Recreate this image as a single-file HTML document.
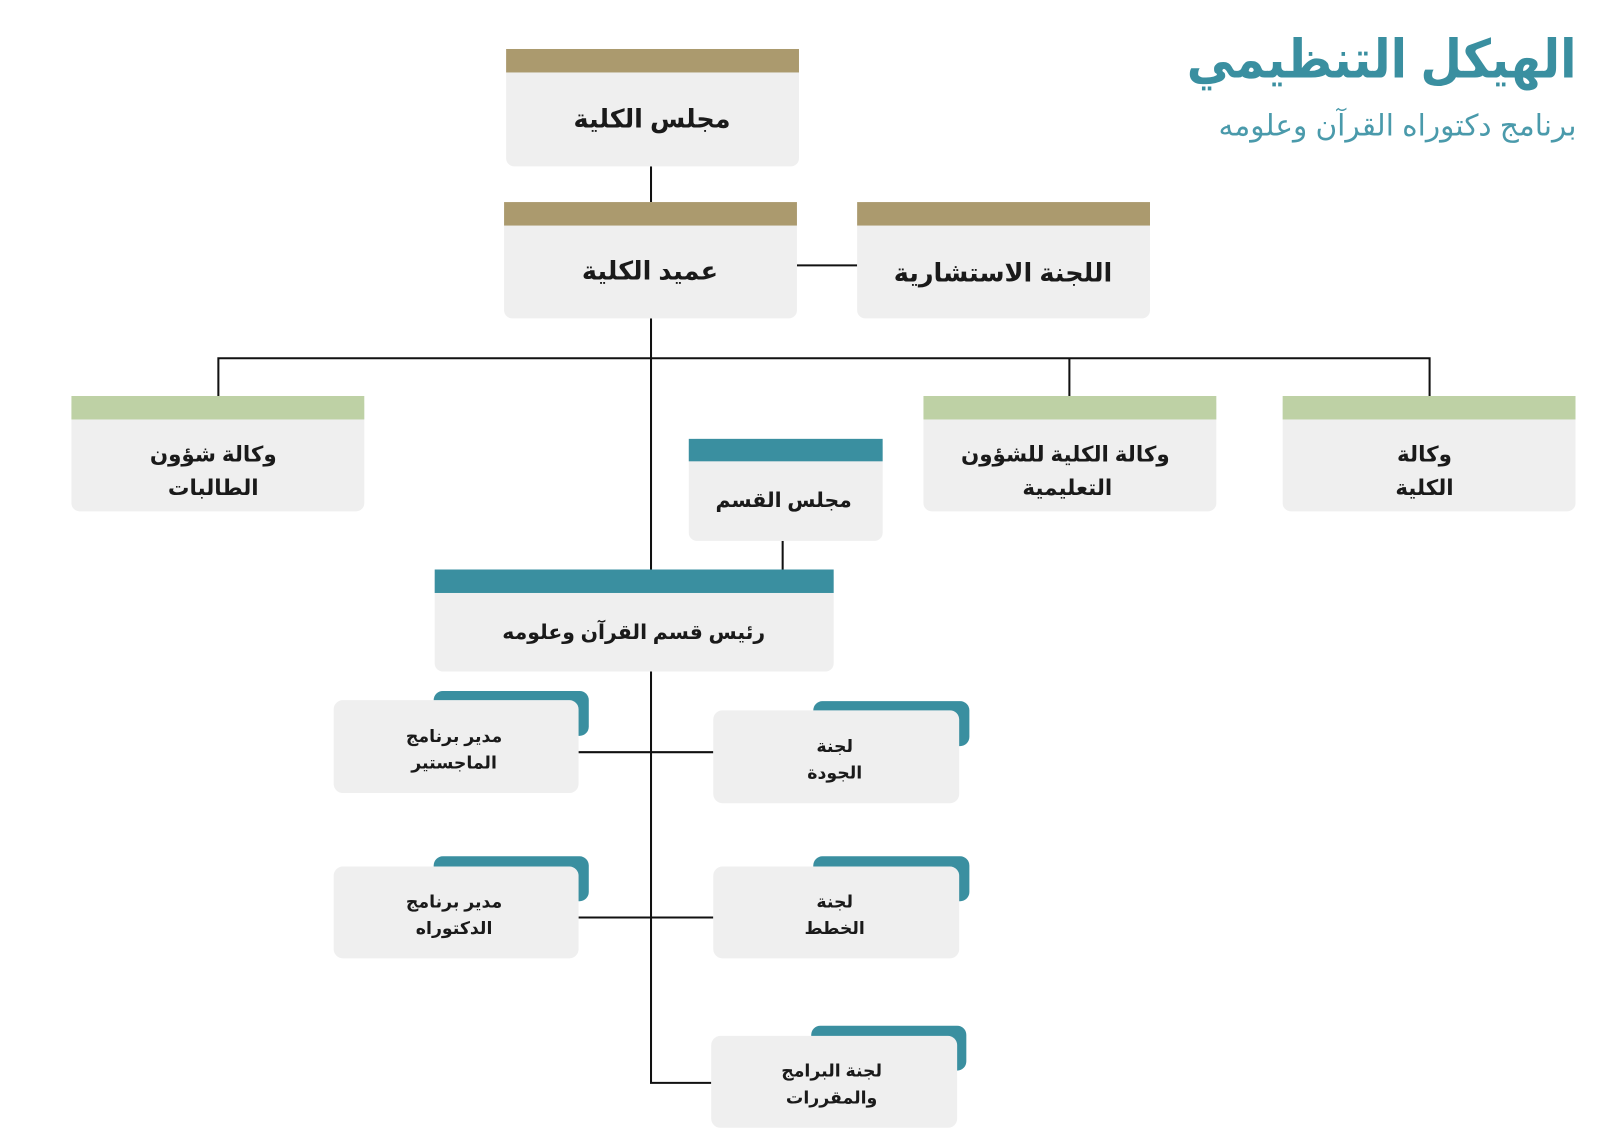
<!DOCTYPE html>
<html><head><meta charset="utf-8"><style>
html,body{margin:0;padding:0;background:#fff;}
svg{display:block;}
text{font-family:"Liberation Sans","Noto Sans CJK SC","DejaVu Sans",sans-serif;font-weight:bold;fill:#1a1a1a;text-anchor:middle;}
</style></head><body>
<svg width="1600" height="1139" viewBox="0 0 1568 1116" preserveAspectRatio="none" xmlns="http://www.w3.org/2000/svg">
<g stroke="#111" stroke-width="2" fill="none">
<line x1="638" y1="163" x2="638" y2="198"/>
<line x1="781" y1="260" x2="840" y2="260"/>
<line x1="638" y1="312" x2="638" y2="558"/>
<polyline points="214,388 214,351 1401,351 1401,388"/>
<line x1="1048" y1="351" x2="1048" y2="388"/>
<line x1="767" y1="530" x2="767" y2="558"/>
<polyline points="638,658 638,1061 697,1061"/>
<line x1="567" y1="737" x2="699" y2="737"/>
<line x1="567" y1="899" x2="699" y2="899"/>
</g>
<g>
<rect x="496" y="48" width="287" height="115" rx="8" fill="#efefef"/>
<rect x="496" y="48" width="287" height="23" fill="#ab9a6e"/>
<text x="639" y="125" font-size="25">مجلس الكلية</text>
<rect x="494" y="198" width="287" height="114" rx="8" fill="#efefef"/>
<rect x="494" y="198" width="287" height="23" fill="#ab9a6e"/>
<text x="637" y="274" font-size="25">عميد الكلية</text>
<rect x="840" y="198" width="287" height="114" rx="8" fill="#efefef"/>
<rect x="840" y="198" width="287" height="23" fill="#ab9a6e"/>
<text x="983" y="276" font-size="25">اللجنة الاستشارية</text>
</g>
<g>
<rect x="70" y="388" width="287" height="113" rx="8" fill="#efefef"/>
<rect x="70" y="388" width="287" height="23" fill="#bed1a5"/>
<text x="209" y="452" font-size="21">وكالة شؤون</text>
<text x="209" y="485" font-size="21">الطالبات</text>
<rect x="905" y="388" width="287" height="113" rx="8" fill="#efefef"/>
<rect x="905" y="388" width="287" height="23" fill="#bed1a5"/>
<text x="1044" y="452" font-size="21">وكالة الكلية للشؤون</text>
<text x="1046" y="485" font-size="21">التعليمية</text>
<rect x="1257" y="388" width="287" height="113" rx="8" fill="#efefef"/>
<rect x="1257" y="388" width="287" height="23" fill="#bed1a5"/>
<text x="1396" y="452" font-size="21">وكالة</text>
<text x="1396" y="485" font-size="21">الكلية</text>
</g>
<g>
<rect x="675" y="430" width="190" height="100" rx="8" fill="#efefef"/>
<rect x="675" y="430" width="190" height="22" fill="#3a8fa0"/>
<text x="768" y="497" font-size="20">مجلس القسم</text>
<rect x="426" y="558" width="391" height="100" rx="8" fill="#efefef"/>
<rect x="426" y="558" width="391" height="23" fill="#3a8fa0"/>
<text x="621" y="626" font-size="20">رئيس قسم القرآن وعلومه</text>
</g>
<g>
<rect x="425" y="677" width="152" height="44" rx="9" fill="#3a8fa0"/>
<rect x="327" y="686" width="240" height="91" rx="9" fill="#efefef"/>
<text x="445" y="727" font-size="17">مدير برنامج</text>
<text x="445" y="753" font-size="17">الماجستير</text>
<rect x="797" y="687" width="153" height="44" rx="9" fill="#3a8fa0"/>
<rect x="699" y="696" width="241" height="91" rx="9" fill="#efefef"/>
<text x="818" y="737" font-size="17">لجنة</text>
<text x="818" y="763" font-size="17">الجودة</text>
<rect x="425" y="839" width="152" height="44" rx="9" fill="#3a8fa0"/>
<rect x="327" y="849" width="240" height="90" rx="9" fill="#efefef"/>
<text x="445" y="889" font-size="17">مدير برنامج</text>
<text x="445" y="915" font-size="17">الدكتوراه</text>
<rect x="797" y="839" width="153" height="44" rx="9" fill="#3a8fa0"/>
<rect x="699" y="849" width="241" height="90" rx="9" fill="#efefef"/>
<text x="818" y="889" font-size="17">لجنة</text>
<text x="818" y="915" font-size="17">الخطط</text>
<rect x="795" y="1005" width="152" height="44" rx="9" fill="#3a8fa0"/>
<rect x="697" y="1015" width="241" height="90" rx="9" fill="#efefef"/>
<text x="815" y="1055" font-size="17">لجنة البرامج</text>
<text x="815" y="1081" font-size="17">والمقررات</text>
</g>
<text x="1545" y="76" font-size="52" textLength="382" lengthAdjust="spacingAndGlyphs" style="text-anchor:end;fill:#3a8fa0">الهيكل التنظيمي</text>
<text x="1545" y="133" font-size="29" style="text-anchor:end;fill:#4a9aab;font-weight:normal">برنامج دكتوراه القرآن وعلومه</text>
</svg>
</body></html>
